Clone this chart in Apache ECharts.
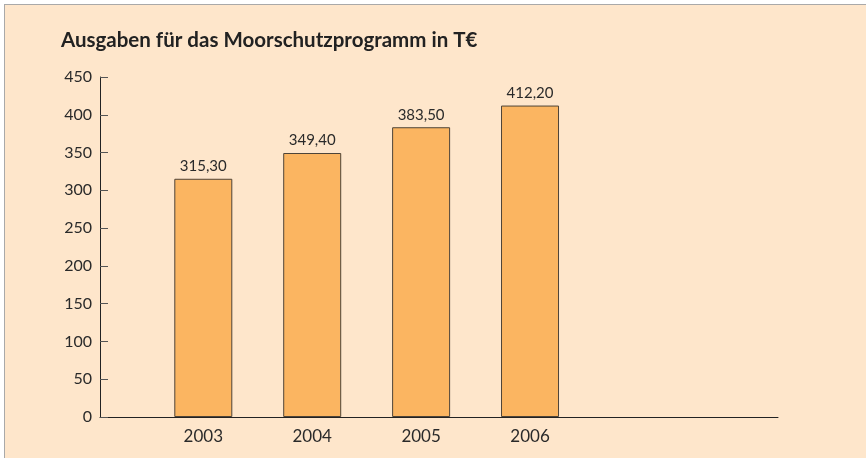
<!DOCTYPE html>
<html>
<head>
<meta charset="utf-8">
<script src="https://cdn.jsdelivr.net/npm/echarts@6/dist/echarts.min.js"></script>
<style>
    body { margin: 0; background: #ffffff; }
    #frame {
        position: absolute; left: 4px; top: 4px; right: 0; bottom: 0;
        background: #fee6cb;
        border-left: 1px solid #a9a9a9;
        border-top: 1px solid #a9a9a9;
    }
    #main { position: absolute; left: 0; top: 0; width: 866px; height: 458px; }
</style>
</head>
<body>
<div id="frame"></div>
<div id="main"></div>
<script>
    const years = [2003, 2004, 2005, 2006];
    const ausgaben = [315.30, 349.40, 383.50, 412.20];
    const yTicks = [0, 50, 100, 150, 200, 250, 300, 350, 400, 450];

    const chart = echarts.init(document.getElementById('main'));
    const font = 'Lato, "Open Sans", sans-serif';

    const option = {
        backgroundColor: 'transparent',
        animation: false,
        textStyle: { fontFamily: font },
        title: {
            text: 'Ausgaben für das Moorschutzprogramm in T€',
            left: 61,
            top: 30,
            padding: 0,
            textStyle: { fontFamily: font, fontSize: 20.5, fontWeight: 'bold', color: '#222222' }
        },
        grid: { left: 100, right: 88, top: 77, bottom: 41 },
        xAxis: {
            type: 'value',
            // axis runs a bit before 2003 and well past 2006, as in the print
            min: 2002.0514,
            max: 2008.277,
            axisLine: { show: true, lineStyle: { color: '#222222', width: 1 } },
            axisTick: { show: false },
            splitLine: { show: false },
            axisLabel: {
                customValues: years,
                formatter: v => String(v),
                color: '#2a2a2a',
                fontSize: 17,
                margin: 11
            }
        },
        yAxis: {
            type: 'value',
            min: yTicks[0],
            max: yTicks[yTicks.length - 1],
            interval: 50,
            axisLine: { show: true, lineStyle: { color: '#222222', width: 1 } },
            axisTick: { show: true, inside: true, length: 8, lineStyle: { color: '#555555' } },
            splitLine: { show: false },
            axisLabel: { color: '#2a2a2a', fontSize: 16, margin: 8 }
        },
        series: [{
            type: 'bar',
            barWidth: 58,
            data: years.map((y, i) => [y, ausgaben[i]]),
            itemStyle: { color: '#fbb561', borderColor: '#4e4438', borderWidth: 1 },
            label: {
                show: true,
                position: 'top',
                distance: 5,
                color: '#2a2a2a',
                fontSize: 15,
                formatter: p => p.value[1].toFixed(2).replace('.', ',')
            }
        }]
    };

    chart.setOption(option);
</script>
</body>
</html>
